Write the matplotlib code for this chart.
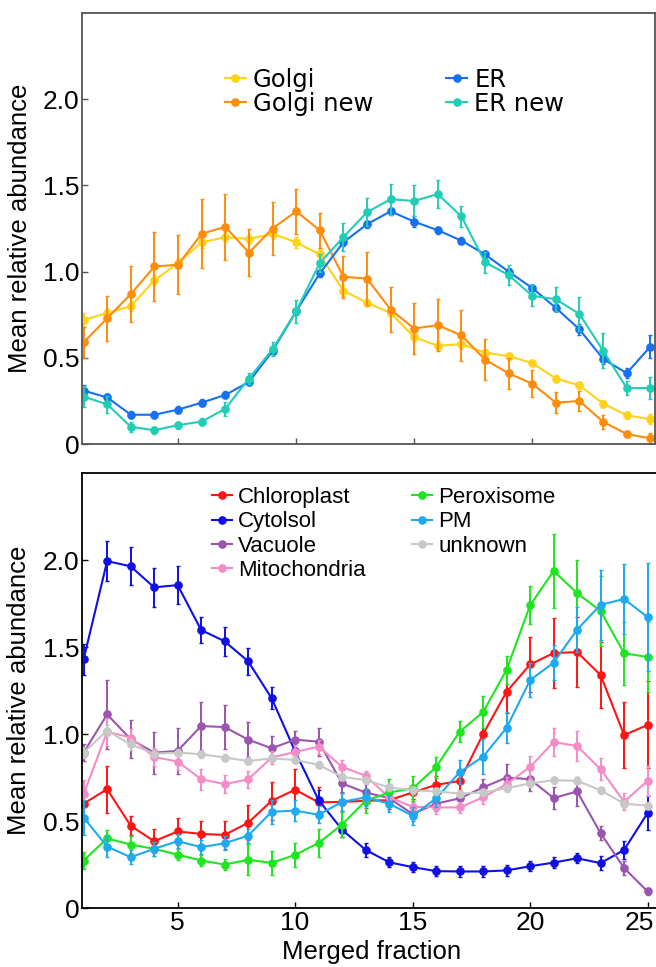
import matplotlib
matplotlib.use("Agg")
from matplotlib import pyplot as plt
from matplotlib.transforms import ScaledTranslation

# merged fractions 1..25
fraction = list(range(1, 26))

# top panel: Golgi / ER markers
golgi = [0.72, 0.76, 0.80, 0.95, 1.05, 1.17, 1.20, 1.19, 1.22, 1.17, 1.10, 0.89, 0.82,
         0.76, 0.62, 0.57, 0.58, 0.53, 0.51, 0.47, 0.38, 0.34, 0.235, 0.167, 0.144]
golgi_err = [0.04, 0.03, 0.03, 0.03, 0.03, 0.03, 0.03, 0.03, 0.03, 0.03, 0.03, 0.03, 0.02,
             0.02, 0.03, 0.03, 0.03, 0.02, 0.02, 0.02, 0.02, 0.02, 0.02, 0.02, 0.03]
golgi_new = [0.59, 0.73, 0.87, 1.03, 1.04, 1.22, 1.26, 1.11, 1.25, 1.35, 1.24, 0.97, 0.96,
             0.78, 0.67, 0.69, 0.63, 0.49, 0.41, 0.35, 0.24, 0.25, 0.129, 0.058, 0.033]
golgi_new_err = [0.09, 0.13, 0.16, 0.20, 0.17, 0.20, 0.19, 0.135, 0.155, 0.13, 0.10, 0.12, 0.155,
                 0.13, 0.15, 0.15, 0.15, 0.12, 0.09, 0.08, 0.06, 0.06, 0.04, 0.02, 0.03]
er = [0.31, 0.27, 0.17, 0.17, 0.20, 0.24, 0.285, 0.36, 0.54, 0.77, 0.99, 1.17, 1.275,
      1.35, 1.29, 1.24, 1.18, 1.10, 1.00, 0.905, 0.79, 0.665, 0.494, 0.411, 0.565]
er_err = [0.03, 0.02, 0.02, 0.02, 0.02, 0.02, 0.02, 0.02, 0.02, 0.02, 0.02, 0.02, 0.02,
          0.02, 0.03, 0.02, 0.02, 0.02, 0.02, 0.02, 0.02, 0.03, 0.03, 0.03, 0.066]
er_new = [0.275, 0.23, 0.10, 0.08, 0.11, 0.13, 0.205, 0.38, 0.55, 0.77, 1.05, 1.20, 1.345,
          1.42, 1.41, 1.45, 1.32, 1.055, 0.98, 0.86, 0.84, 0.754, 0.542, 0.325, 0.325]
er_new_err = [0.06, 0.05, 0.03, 0.02, 0.02, 0.02, 0.04, 0.03, 0.04, 0.066, 0.05, 0.08, 0.08,
              0.09, 0.09, 0.08, 0.06, 0.06, 0.06, 0.06, 0.07, 0.10, 0.10, 0.04, 0.065]

# bottom panel: other compartments
chloro = [0.60, 0.683, 0.473, 0.384, 0.44, 0.426, 0.42, 0.49, 0.616, 0.68, 0.607, 0.61, 0.616,
          0.62, 0.664, 0.708, 0.73, 1.0, 1.243, 1.40, 1.465, 1.471, 1.339, 0.994, 1.052]
chloro_err = [0.08, 0.135, 0.055, 0.07, 0.08, 0.075, 0.08, 0.10, 0.11, 0.12, 0.09, 0.05, 0.04,
              0.05, 0.04, 0.05, 0.05, 0.12, 0.12, 0.16, 0.20, 0.20, 0.19, 0.19, 0.25]
cyto = [1.43, 1.994, 1.964, 1.843, 1.856, 1.598, 1.533, 1.418, 1.206, 0.90, 0.62, 0.45, 0.334,
        0.263, 0.235, 0.212, 0.21, 0.21, 0.216, 0.24, 0.261, 0.286, 0.258, 0.334, 0.546]
cyto_err = [0.09, 0.115, 0.11, 0.11, 0.11, 0.075, 0.085, 0.077, 0.065, 0.05, 0.06, 0.04, 0.04,
            0.03, 0.03, 0.03, 0.03, 0.03, 0.03, 0.03, 0.03, 0.03, 0.04, 0.05, 0.10]
vac = [0.893, 1.113, 0.97, 0.893, 0.903, 1.046, 1.04, 0.968, 0.918, 0.968, 0.956, 0.716, 0.664,
       0.632, 0.54, 0.60, 0.63, 0.693, 0.75, 0.74, 0.632, 0.67, 0.43, 0.23, 0.095]
vac_err = [0.05, 0.20, 0.11, 0.12, 0.13, 0.14, 0.125, 0.10, 0.07, 0.05, 0.08, 0.05, 0.05,
           0.04, 0.04, 0.04, 0.04, 0.05, 0.08, 0.07, 0.065, 0.085, 0.04, 0.04, 0.02]
mito = [0.655, 1.013, 0.98, 0.868, 0.842, 0.74, 0.712, 0.739, 0.865, 0.897, 0.928, 0.811, 0.76,
        0.636, 0.582, 0.578, 0.578, 0.636, 0.712, 0.811, 0.954, 0.931, 0.798, 0.611, 0.731]
mito_err = [0.08, 0.08, 0.05, 0.05, 0.05, 0.06, 0.05, 0.05, 0.04, 0.04, 0.04, 0.04, 0.03,
            0.03, 0.03, 0.04, 0.03, 0.04, 0.04, 0.065, 0.08, 0.085, 0.065, 0.05, 0.085]
perox = [0.273, 0.40, 0.365, 0.34, 0.307, 0.273, 0.25, 0.277, 0.26, 0.305, 0.374, 0.48, 0.616,
         0.664, 0.687, 0.81, 1.013, 1.126, 1.37, 1.74, 1.937, 1.81, 1.707, 1.464, 1.443]
perox_err = [0.05, 0.05, 0.05, 0.04, 0.03, 0.03, 0.03, 0.09, 0.07, 0.07, 0.08, 0.07, 0.07,
             0.08, 0.07, 0.06, 0.06, 0.09, 0.08, 0.11, 0.214, 0.19, 0.20, 0.18, 0.20]
pm = [0.52, 0.353, 0.292, 0.34, 0.384, 0.35, 0.372, 0.416, 0.553, 0.56, 0.536, 0.61, 0.636,
      0.60, 0.53, 0.63, 0.78, 0.87, 1.036, 1.31, 1.41, 1.60, 1.743, 1.776, 1.672]
pm_err = [0.10, 0.06, 0.04, 0.04, 0.04, 0.04, 0.04, 0.04, 0.07, 0.06, 0.05, 0.05, 0.05,
          0.05, 0.05, 0.05, 0.07, 0.10, 0.09, 0.10, 0.10, 0.13, 0.20, 0.20, 0.31]
unknown = [0.893, 1.02, 0.94, 0.887, 0.893, 0.884, 0.865, 0.845, 0.86, 0.851, 0.823, 0.754, 0.735,
           0.693, 0.677, 0.67, 0.658, 0.664, 0.689, 0.716, 0.735, 0.731, 0.677, 0.60, 0.588]
unknown_err = [0.03, 0.03, 0.03, 0.02, 0.02, 0.02, 0.02, 0.02, 0.02, 0.02, 0.02, 0.02, 0.02,
               0.02, 0.02, 0.02, 0.02, 0.02, 0.02, 0.02, 0.02, 0.02, 0.02, 0.02, 0.02]

yticks = [0, 0.5, 1.0, 1.5, 2.0]
ytick_labels = ["0", "0.5", "1.0", "1.5", "2.0"]
xticks = [5, 10, 15, 20, 25]

SANS = ["Liberation Sans", "DejaVu Sans"]


def draw(ax, y, yerr, color, label):
    # error bars first, then the line with markers on top
    ax.errorbar(fraction, y, yerr=yerr, fmt="none", ecolor=color, elinewidth=1.4,
                capsize=1.5, capthick=1.0)
    line, = ax.plot(fraction, y, "o-", color=color, lw=1.5, ms=5.2, label=label)
    return line


def style_axes(ax, spine_color):
    ax.set_ylim(0, 2.5)
    ax.set_yticks(yticks)
    ax.set_yticklabels(ytick_labels)
    ax.set_xticks(xticks)
    for s in ax.spines.values():
        s.set_color(spine_color)
        s.set_linewidth(1.3)
    ax.tick_params(direction="in", length=4, width=1, pad=2, colors=spine_color,
                   labelcolor="black", labelsize=19)
    for t in ax.get_yticklabels() + ax.get_xticklabels():
        t.set_family(SANS)
    ax.set_ylabel("Mean relative abundance", fontsize=18.5, family=SANS)
    ax.yaxis.set_label_coords(-0.088, 0.5)


fig = plt.figure(figsize=(6.56, 9.67), dpi=100)

# ---- top panel
ax1 = fig.add_axes([0.125, 0.5408, 0.8735, 0.4457])
h_golgi = draw(ax1, golgi, golgi_err, "#FFD21A", "Golgi")
h_golgi_new = draw(ax1, golgi_new, golgi_new_err, "#FF8C0A", "Golgi new")
h_er = draw(ax1, er, er_err, "#1670F2", "ER")
h_er_new = draw(ax1, er_new, er_new_err, "#22CDB6", "ER new")
ax1.set_xlim(0.93, 25.2)
style_axes(ax1, "#555555")
ax1.tick_params(axis="x", labelbottom=False)
ax1.legend(handles=[h_golgi, h_golgi_new, h_er, h_er_new], ncol=2, loc="upper left",
           bbox_to_anchor=(225 / 656, 1 - 68 / 967), bbox_transform=fig.transFigure,
           frameon=False, borderpad=0, borderaxespad=0, numpoints=1,
           handlelength=0.85, handletextpad=0.3, labelspacing=0.0, columnspacing=3.0,
           prop={"family": "DejaVu Sans", "size": 17.5})

# ---- bottom panel
ax2 = fig.add_axes([0.125, 0.061, 0.8826, 0.4498])
h_chl = draw(ax2, chloro, chloro_err, "#FF1414", "Chloroplast")
h_cyt = draw(ax2, cyto, cyto_err, "#0F0FE6", "Cytolsol")
h_vac = draw(ax2, vac, vac_err, "#9B55AE", "Vacuole")
h_mit = draw(ax2, mito, mito_err, "#F48CC8", "Mitochondria")
h_per = draw(ax2, perox, perox_err, "#1EE61E", "Peroxisome")
h_pm = draw(ax2, pm, pm_err, "#1EAAF0", "PM")
h_unk = draw(ax2, unknown, unknown_err, "#C8C8C8", "unknown")
ax2.set_xlim(0.93, 25.57)
style_axes(ax2, "black")
ax2.set_xlabel("Merged fraction", fontsize=18.5, family=SANS)
# keep the last tick label inside the canvas
last = ax2.get_xticklabels()[-1]
last.set_transform(last.get_transform() + ScaledTranslation(-6 / 72, 0, fig.dpi_scale_trans))
ax2.legend(handles=[h_chl, h_cyt, h_vac, h_mit, h_per, h_pm, h_unk], ncol=2, loc="upper left",
           bbox_to_anchor=(212 / 656, 1 - 487 / 967), bbox_transform=fig.transFigure,
           frameon=False, borderpad=0, borderaxespad=0, numpoints=1,
           handlelength=0.9, handletextpad=0.27, labelspacing=0.15, columnspacing=2.1,
           prop={"family": SANS, "size": 16})

fig.savefig("out.png", dpi=100)
